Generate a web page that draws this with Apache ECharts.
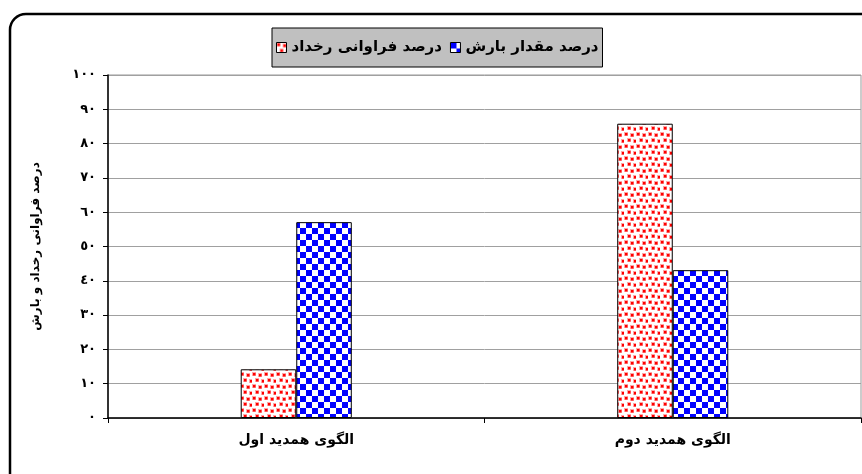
<!DOCTYPE html>
<html><head><meta charset="utf-8">
<script src="https://cdn.jsdelivr.net/npm/echarts@6/dist/echarts.min.js"></script>
<style>html,body{margin:0;padding:0;background:#fff}#c{width:862px;height:474px}</style>
</head><body><div id="c"></div>
<script>
const categories = ['الگوی همدید اول', 'الگوی همدید دوم'];
const seriesNames = ['درصد فراوانی رخداد', 'درصد مقدار بارش'];
const frequencyValues = [14.2, 85.8];
const rainfallValues = [57.1, 43.1];
const yTicks = [0, 10, 20, 30, 40, 50, 60, 70, 80, 90, 100];
const yAxisTitle = 'درصد فراوانی رخداد و بارش';

const FONT = '"DejaVu Sans", sans-serif';
function toArabicDigits(n) {
  const d = '٠١٢٣٤٥٦٧٨٩';
  return String(n).replace(/[0-9]/g, c => d[+c]);
}
function redDots() {
  const c = document.createElement('canvas'); c.width = 12; c.height = 12;
  const g = c.getContext('2d');
  g.fillStyle = '#fff'; g.fillRect(0, 0, 12, 12);
  const pts = [[1, 1], [7, 2], [4, 7], [10, 8]];
  pts.forEach(([x, y]) => {
    g.fillStyle = 'rgba(255,0,0,0.35)';
    g.fillRect(x - 1, y - 1, 4, 4);
    g.fillStyle = '#ff0000';
    g.fillRect(x, y, 2.5, 2.5);
  });
  return c;
}
function blueCheck() {
  const c = document.createElement('canvas'); c.width = 12; c.height = 12;
  const g = c.getContext('2d');
  g.fillStyle = '#fff'; g.fillRect(0, 0, 12, 12);
  g.fillStyle = '#0000ff';
  g.fillRect(0, 0, 6, 6); g.fillRect(6, 6, 6, 6);
  return c;
}
const redPattern = { image: redDots(), repeat: 'repeat' };
const bluePattern = { image: blueCheck(), repeat: 'repeat' };

const chart = echarts.init(document.getElementById('c'), null, { renderer: 'canvas' });
chart.setOption({
  animation: false,
  backgroundColor: '#fff',
  textStyle: { fontFamily: FONT },
  graphic: [{
    type: 'rect', z: 100, silent: true,
    shape: { x: 10, y: 14, width: 900, height: 520, r: 16 },
    style: { fill: 'none', stroke: '#000', lineWidth: 2.5 }
  }],
  legend: {
    left: 272, top: 28,
    padding: [12, 4, 12, 4],
    backgroundColor: '#c0c0c0', borderColor: '#000', borderWidth: 1,
    align: 'left', itemGap: 8, itemWidth: 10, itemHeight: 10,
    data: [
      { name: seriesNames[0], icon: 'rect', itemStyle: { color: redPattern, borderColor: '#000', borderWidth: 1 } },
      { name: seriesNames[1], icon: 'rect', itemStyle: { color: bluePattern, borderColor: '#000', borderWidth: 1 } }
    ],
    textStyle: { fontFamily: FONT, fontWeight: 'bold', fontSize: 15, color: '#000' }
  },
  grid: { left: 108, right: 1, top: 75, bottom: 56, show: true, borderColor: '#999', borderWidth: 1 },
  xAxis: {
    type: 'category', data: categories,
    axisLine: { lineStyle: { color: '#000', width: 1.5 } },
    axisTick: { show: true, length: 5, lineStyle: { color: '#000' } },
    axisLabel: { margin: 15, fontFamily: FONT, fontWeight: 'bold', fontSize: 14, color: '#000' }
  },
  yAxis: {
    type: 'value', min: 0, max: 100, interval: 10,
    name: yAxisTitle, nameLocation: 'middle', nameRotate: 90, nameGap: 66,
    nameTextStyle: { fontFamily: FONT, fontWeight: 'bold', fontSize: 12, color: '#000' },
    axisLine: { show: true, lineStyle: { color: '#000', width: 1.5 } },
    axisTick: { show: true, length: 5, lineStyle: { color: '#000' } },
    axisLabel: {
      margin: 12, fontFamily: FONT, fontWeight: 'bold', fontSize: 13, color: '#000',
      formatter: v => yTicks.includes(v) ? toArabicDigits(v) : ''
    },
    splitLine: { show: true, lineStyle: { color: '#a0a0a0', width: 1 } }
  },
  series: [
    {
      name: seriesNames[0], type: 'bar', data: frequencyValues,
      barGap: '0%', barCategoryGap: '70.5%',
      itemStyle: { color: redPattern, borderColor: '#000', borderWidth: 1 }
    },
    {
      name: seriesNames[1], type: 'bar', data: rainfallValues,
      itemStyle: { color: bluePattern, borderColor: '#000', borderWidth: 1 }
    }
  ]
});
</script></body></html>
